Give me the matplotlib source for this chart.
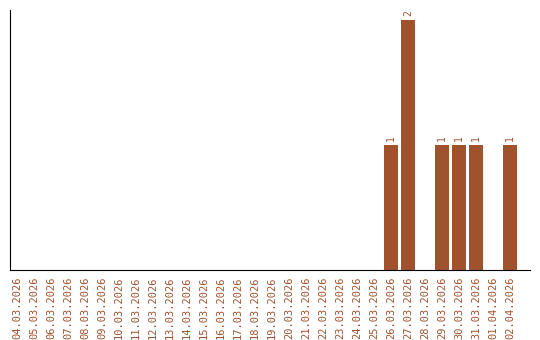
import matplotlib
matplotlib.use("Agg")
import matplotlib.pyplot as plt

# dates 04.03.2026 .. 02.04.2026
dates = ["04.03.2026", "05.03.2026", "06.03.2026", "07.03.2026", "08.03.2026",
         "09.03.2026", "10.03.2026", "11.03.2026", "12.03.2026", "13.03.2026",
         "14.03.2026", "15.03.2026", "16.03.2026", "17.03.2026", "18.03.2026",
         "19.03.2026", "20.03.2026", "21.03.2026", "22.03.2026", "23.03.2026",
         "24.03.2026", "25.03.2026", "26.03.2026", "27.03.2026", "28.03.2026",
         "29.03.2026", "30.03.2026", "31.03.2026", "01.04.2026", "02.04.2026"]
counts = [0, 0, 0, 0, 0, 0, 0, 0, 0, 0,
          0, 0, 0, 0, 0, 0, 0, 0, 0, 0,
          0, 0, 1, 2, 0, 1, 1, 1, 0, 1]

color = "#A0522D"

fig = plt.figure(figsize=(5.4, 3.4), dpi=100)
ax = fig.add_axes([10 / 540, 70 / 340, 520 / 540, 260 / 340])

x = range(len(dates))
ax.bar(x, counts, width=0.82, color=color)

for xi, c in zip(x, counts):
    if c > 0:
        ax.text(xi, c + 0.03, str(c), rotation=90, ha="center", va="bottom",
                fontsize=7, color=color, family="DejaVu Sans Mono")

ax.set_xlim(-0.41, 30.18)
ax.set_ylim(0, 2.08)
ax.set_xticks(list(x))
ax.set_xticklabels(dates, rotation=90, fontsize=7.5, color=color,
                   family="DejaVu Sans Mono")
ax.tick_params(axis="x", length=0, pad=5)
ax.set_yticks([])
ax.spines["top"].set_visible(False)
ax.spines["right"].set_visible(False)

fig.savefig("out.png", dpi=100)
